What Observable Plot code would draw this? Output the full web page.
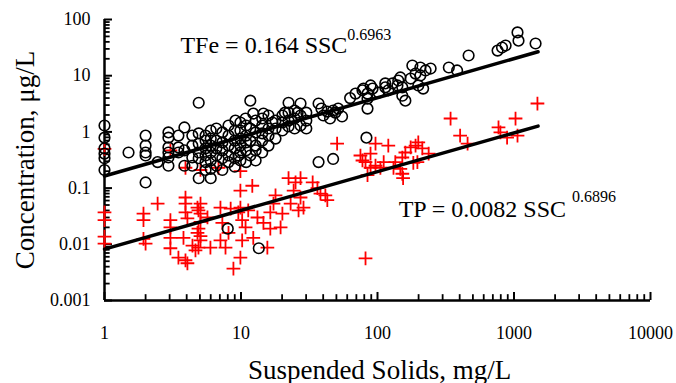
<!DOCTYPE html>
<html><head><meta charset="utf-8">
<script src="https://cdn.jsdelivr.net/npm/d3@7"></script>
<script src="https://cdn.jsdelivr.net/npm/@observablehq/plot@0.6"></script>
<style>
body{margin:0;background:#fff;}
svg{display:block}
svg, svg text {font-family: 'Liberation Serif', 'Times New Roman', serif !important;}
</style>
</head><body><div id="chart"></div>
<script>
// TFe samples: [SSC mg/L, concentration]
const tfeSamples = [
[1,1.3],[1,0.79],[1,0.51],[1,0.41],[1,0.34],[1,0.21],
[1.5,0.43],
[2,0.86],[2,0.57],[2,0.43],[2,0.38],[2,0.126],
[2.45,0.29],
[2.94,0.98],[2.94,0.79],[2.94,0.53],[2.94,0.43],[2.94,0.35],[2.94,0.25],
[3.48,0.86],[3.48,0.53],[3.48,0.43],
[3.85,1.2],[3.85,0.47],[3.85,0.25],
[4.4,0.86],[4.4,0.57],[4.4,0.35],[4.4,0.25],
[4.9,3.3],[4.9,0.94],[4.9,0.62],[4.9,0.43],[4.9,0.34],[4.9,0.15],
[5.5,0.86],[5.5,0.7],[5.5,0.51],[5.5,0.38],[5.5,0.29],[5.5,0.21],
[6,1.06],[6,0.76],[6,0.57],[6,0.43],[6,0.31],[6,0.22],[6,0.15],
[6.6,1.15],[6.6,0.7],[6.6,0.51],[6.6,0.38],[6.6,0.25],
[7.3,0.98],[7.3,0.65],[7.3,0.47],[7.3,0.34],[7.3,0.21],
[8.1,1.3],[8.1,0.86],[8.1,0.57],[8.1,0.38],[8.1,0.29],
[9,1.06],[9,0.7],[9,0.51],[9,0.34],[9,0.24],
[9.1,1.59],[9.6,0.38],
[9.9,1.47],[9.9,1.06],[9.9,0.76],[9.9,0.57],[9.9,0.43],[9.9,0.31],
[10.8,1.73],
[10.9,1.3],[10.9,0.86],[10.9,0.65],[10.9,0.47],[10.9,0.29],
[11.7,3.6],[11.7,1.15],[11.7,0.7],[11.7,0.38],
[12.3,2.12],
[12.8,1.59],[12.8,0.98],[12.8,0.57],[12.8,0.47],[12.8,0.31],
[14.3,1.73],[14.3,1.3],[14.3,0.94],[14.3,0.7],[14.3,0.43],
[14.6,2.12],
[15.9,1.96],[15.9,1.15],[15.9,0.86],[15.9,0.57],
[17,1.47],
[17.9,1.59],[17.9,1.15],[17.9,0.76],
[20.1,1.96],[20.1,1.47],[20.1,1.06],
[21,2.2],
[22.3,3.3],[22.3,2.2],[22.3,1.59],[22.3,1.25],
[24.7,2.4],[24.7,1.73],[24.7,1.15],
[26,2.2],
[27.3,3.2],[27.3,1.96],[27.3,1.3],
[30.1,2.2],[30.1,1.59],[30.1,1.15],
[8,0.019],[13.5,0.0085],
[37,3.2],[38.8,2.6],[40.1,1.96],[42.9,2.3],[44.9,1.73],[47.3,2.4],[49,2.2],[51.5,2.6],[55,1.88],
[37,0.29],[47.3,0.33],[83,0.79],
[63,4.0],[69,4.8],
[77.6,5.5],[79,5.9],[84.5,4.8],[84.5,3.9],[84.5,2.6],[89,6.7],[92,5.9],[102,5.0],[114,6.2],[114,7.3],[120,5.5],[129,7.3],[140,6.7],[142,8.2],[147,9.3],[152,6.2],[152,4.4],[160,3.6],
[175,8.9],[180,15.2],[190,10.9],[199,6.7],[206,14],[206,10.1],[216,5.9],[225,12.4],[245,13.4],
[333,14],[383,12.4],[465,22.9],[758,28],[817,31.7],[868,34.4],[1061,59],[1079,42],[1439,37.4]
];

// TP samples: [SSC mg/L, concentration]
const tpSamples = [
[1,0.5],[1,0.037],[1,0.027],[1,0.0137],[1,0.0103],
[1.93,0.035],[1.93,0.027],[1.93,0.0125],[2,0.0103],
[2.45,0.053],
[3.04,0.47],
[3.04,0.027],[3.04,0.02],[3.04,0.013],[3.04,0.0085],[3.48,0.0058],[3.92,0.0052],[4.05,0.0046],
[3.92,0.23],
[3.92,0.068],[3.92,0.053],[3.92,0.037],[4.05,0.029],[3.79,0.013],[4.41,0.0095],
[5.05,0.21],
[4.88,0.04],[5.05,0.053],[4.88,0.019],[5.05,0.014],[4.64,0.0078],[4.8,0.045],[5.05,0.035],[5.05,0.025],[4.8,0.016],[5.05,0.0117],[4.88,0.0087],
[5.68,0.03],[5.97,0.0087],[6.84,0.23],[7.07,0.045],[7.07,0.0117],[7.3,0.024],[7.7,0.0087],[8.1,0.016],[8.4,0.043],[8.8,0.0037],
[9.56,0.037],[9.9,0.2],
[9.9,0.09],[9.9,0.045],[10.2,0.027],[10.2,0.0117],[9.9,0.0058],[10.8,0.02],[11.3,0.04],[12.1,0.11],[12.3,0.013],[13.2,0.03],[14.6,0.024],[15.6,0.0087],[16.4,0.019],[16.4,0.037],[17.3,0.053],[17.9,0.074],[19.5,0.02],[20.1,0.035],[22.3,0.15],[23.1,0.053],[24.3,0.09],[25.1,0.126],[26.4,0.04],[27.3,0.068],[27.3,0.15],[28.7,0.045],[33.5,0.126],[36.3,0.1],[38.2,0.08],[41.5,0.074],[42.9,0.061],
[50.6,0.62],[75,0.38],[77.6,0.31],[81.7,0.29],[81.7,0.0056],[84.5,0.17],[88.9,0.41],[89,0.23],[96.7,0.62],[96.7,0.25],[105,0.23],[111,0.29],[120,0.57],[131,0.23],[135,0.29],[147,0.22],[152,0.35],[152,0.18],[154,0.15],[160,0.43],[175,0.53],[183,0.28],[190,0.57],[196,0.29],[199,0.65],[213,0.51],[237,0.41],
[343,1.73],[403,0.86],[457,0.62],[770,1.2],[795,0.98],[890,0.79],[1026,1.73],[1061,0.86],[1485,3.2]
];

// Regression lines (end points)
const fitSSC = [1, 1500];
const tfeFit = [0.164, 26.7];
const tpFit = [0.0082, 1.27];

// Axis ticks
const xMajor = [1, 10, 100, 1000, 10000];
const xTickLabels = ["1", "10", "100", "1000", "10000"];
const yMajor = [0.001, 0.01, 0.1, 1, 10, 100];
const yTickLabels = ["0.001", "0.01", "0.1", "1", "10", "100"];
const minorSteps = [2, 3, 4, 5, 6, 7, 8, 9];
const xMinor = [1, 10, 100, 1000].flatMap(d => minorSteps.map(k => k * d));
const yMinor = [0.001, 0.01, 0.1, 1, 10].flatMap(d => minorSteps.map(k => +(k * d).toPrecision(3)));

const W = 676, H = 383, ML = 104, MR = 26, MT = 19, MB = 83;
const font = "'Liberation Serif','Times New Roman',serif";

const fitRows = (ys) => fitSSC.map((x, i) => ({x, y: ys[i]}));

const plot = Plot.plot({
  width: W, height: H,
  marginLeft: ML, marginRight: MR, marginTop: MT, marginBottom: MB,
  x: {type: "log", domain: [1, 10000]},
  y: {type: "log", domain: [0.001, 100]},
  style: {fontFamily: font, background: "#fff", color: "#000", overflow: "visible"},
  marks: [
    Plot.axisX({ticks: xMajor, tickFormat: d => xTickLabels[xMajor.indexOf(d)], tickSize: 0, tickPadding: 26, fontSize: 18, fontFamily: font, label: null}),
    Plot.axisY({ticks: yMajor, tickFormat: d => yTickLabels[yMajor.indexOf(d)], tickSize: 0, tickPadding: 14, fontSize: 18, fontFamily: font, label: null}),
    // inward tick marks along the axes
    Plot.ruleX(xMajor, {x: d => d, y1: 0.001, y2: 0.00139, stroke: "#000", strokeWidth: 2}),
    Plot.ruleX(xMinor, {x: d => d, y1: 0.001, y2: 0.00127, stroke: "#000", strokeWidth: 1.8}),
    Plot.ruleY(yMajor, {y: d => d, x1: 1, x2: 1.145, stroke: "#000", strokeWidth: 2}),
    Plot.ruleY(yMinor, {y: d => d, x1: 1, x2: 1.1, stroke: "#000", strokeWidth: 1.8}),
    Plot.ruleX([1], {stroke: "#000", strokeWidth: 2.5}),
    Plot.ruleY([0.001], {stroke: "#000", strokeWidth: 2.5}),
    Plot.dot(tpSamples, {x: d => d[0], y: d => d[1], symbol: "plus", r: 4.5, stroke: "#ff0000", strokeWidth: 1.8}),
    Plot.dot(tfeSamples, {x: d => d[0], y: d => d[1], r: 5.3, stroke: "#000", strokeWidth: 1.6, fill: "none"}),
    Plot.line(fitRows(tfeFit), {x: "x", y: "y", stroke: "#000", strokeWidth: 3.5}),
    Plot.line(fitRows(tpFit), {x: "x", y: "y", stroke: "#000", strokeWidth: 3.5}),
    Plot.text(["TFe = 0.164 SSC"], {x: 3.6, y: 25, text: d => d, textAnchor: "start", lineAnchor: "bottom", fontSize: 24, fontFamily: font, fill: "#000"}),
    Plot.text(["TP = 0.0082 SSC"], {x: 143, y: 0.03, text: d => d, textAnchor: "start", lineAnchor: "bottom", fontSize: 24, fontFamily: font, fill: "#000"}),
    Plot.text(["Concentration, μg/L"], {frameAnchor: "left", text: d => d, rotate: -90, dx: -71, textAnchor: "middle", lineAnchor: "bottom", fontSize: 27, fontFamily: font, fill: "#000"}),
    Plot.text(["Suspended Solids, mg/L"], {frameAnchor: "bottom", text: d => d, dx: 2, dy: 78, textAnchor: "middle", lineAnchor: "bottom", fontSize: 27, fontFamily: font, fill: "#000"})
  ]
});

const sel = d3.select(plot);
sel.selectAll("text").filter(function() { return this.textContent === "TFe = 0.164 SSC"; })
  .append("tspan").attr("dy", -13).attr("font-size", 16).text("0.6963");
sel.selectAll("text").filter(function() { return this.textContent === "TP = 0.0082 SSC"; })
  .append("tspan").attr("dx", 6).attr("dy", -15).attr("font-size", 16).text("0.6896");

document.getElementById("chart").appendChild(plot);
</script>
</body></html>
